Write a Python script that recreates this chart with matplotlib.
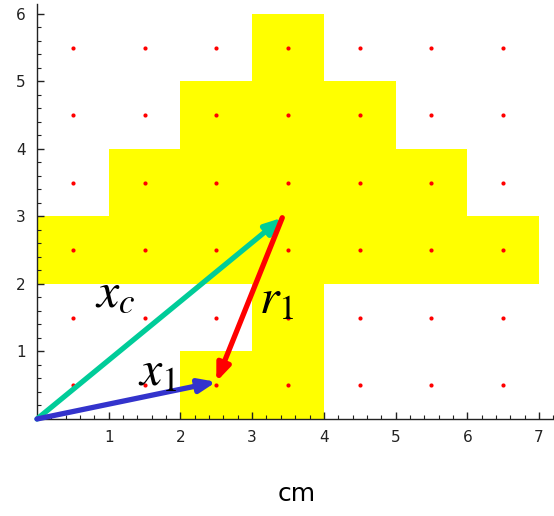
import matplotlib.pyplot as plt
from matplotlib.patches import Rectangle
from matplotlib.ticker import MultipleLocator

plt.rcParams['mathtext.fontset'] = 'stix'

# yellow cells, one row per unit of y: (row bottom, x start, x end)
row_y = [0, 0, 1, 2, 3, 4, 5]
row_x0 = [2, 3, 3, 0, 1, 2, 3]
row_x1 = [3, 4, 4, 7, 6, 5, 4]

# sample points at the cell centres
dot_x = [0.5, 1.5, 2.5, 3.5, 4.5, 5.5, 6.5]
dot_y = [0.5, 1.5, 2.5, 3.5, 4.5, 5.5]

# vectors
origin = (0.0, 0.0)
x1_tip = (2.5, 0.55)
xc_tip = (3.42, 2.98)

fig = plt.figure(figsize=(5.54, 5.16), dpi=100)
ax = fig.add_axes([0.0668, 0.188, 0.932, 0.805])

for y0, a, b in zip(row_y, row_x0, row_x1):
    ax.add_patch(Rectangle((a, y0), b - a, 1, facecolor='#FFFF00', edgecolor='none', zorder=1))

for yy in dot_y:
    ax.scatter(dot_x, [yy] * len(dot_x), s=9, color='#FF0000', linewidths=0, zorder=2)

def arrow(start, end, color):
    ax.annotate('', xy=end, xytext=start,
                arrowprops=dict(arrowstyle='-|>,head_length=1.0,head_width=0.4',
                                color=color, lw=3.8, shrinkA=0, shrinkB=0),
                zorder=4, annotation_clip=False)

arrow(origin, xc_tip, '#00CC99')
arrow(origin, x1_tip, '#3333CC')
arrow(xc_tip, x1_tip, '#FF0000')

ax.text(0.81, 1.67, r'$x_c$', fontsize=36, color='black', zorder=5)
ax.text(1.41, 0.5, r'$x_1$', fontsize=36, color='black', zorder=5)
ax.text(3.1, 1.57, r'$r_1$', fontsize=36, color='black', zorder=5)

ax.set_xlim(0, 7.2)
ax.set_ylim(0, 6.15)
for s in ['top', 'right']:
    ax.spines[s].set_visible(False)
for s in ['left', 'bottom']:
    ax.spines[s].set_linewidth(1.0)
    ax.spines[s].set_color('#222222')

ax.xaxis.set_major_locator(MultipleLocator(1))
ax.xaxis.set_minor_locator(MultipleLocator(0.2))
ax.yaxis.set_major_locator(MultipleLocator(1))
ax.yaxis.set_minor_locator(MultipleLocator(0.2))
ax.set_xticks([1, 2, 3, 4, 5, 6, 7])
ax.set_yticks([1, 2, 3, 4, 5, 6])
ax.tick_params(which='major', direction='in', length=5, width=1, labelsize=11, pad=8, colors='#222222')
ax.tick_params(which='minor', direction='in', length=3, width=0.8, colors='#222222')

fig.text(0.535, 0.02, 'cm', fontsize=18, ha='center', va='bottom')

fig.savefig('out.png', dpi=100)
